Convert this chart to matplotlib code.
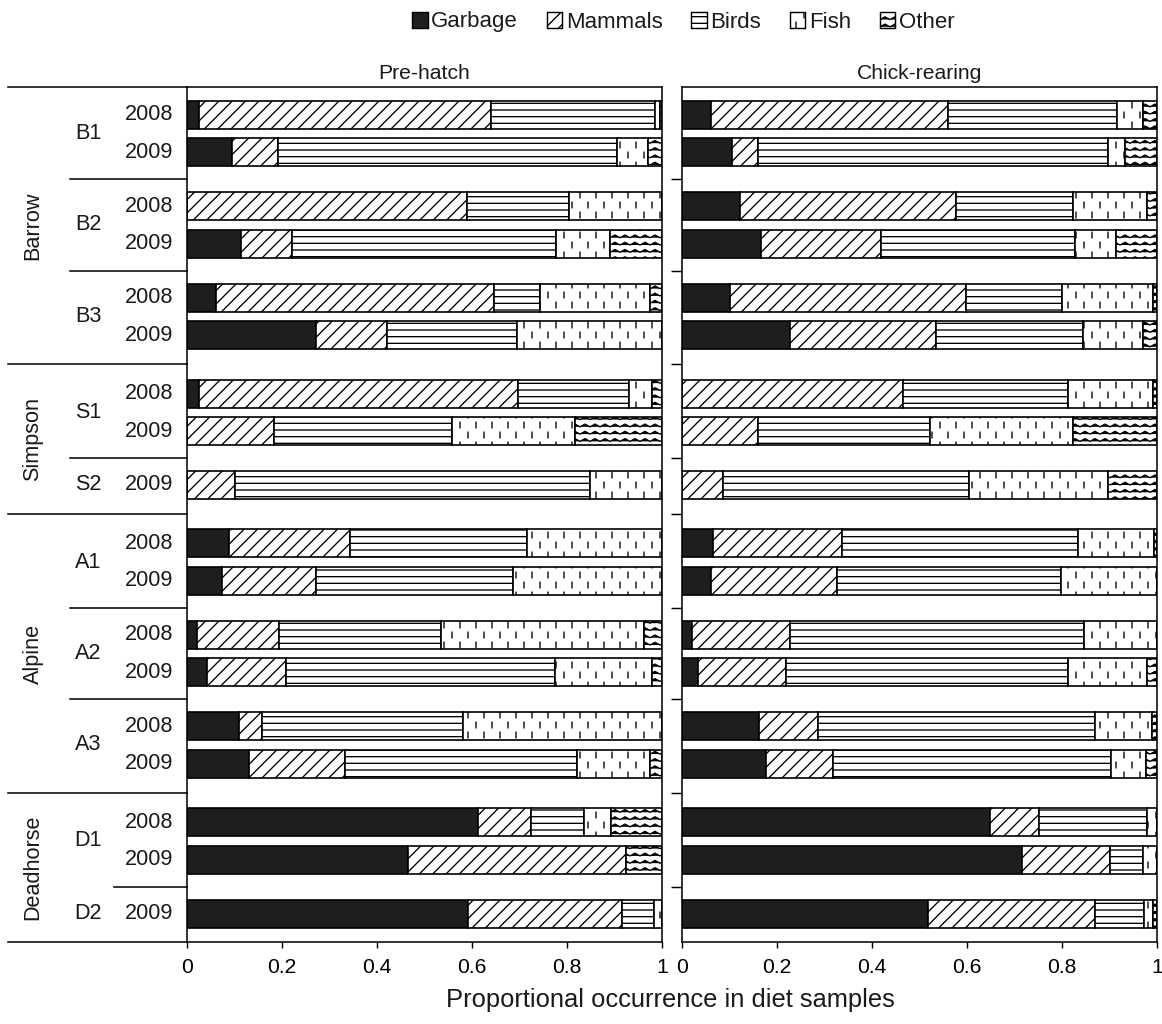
#! /usr/bin/env python3

import warnings
import matplotlib
matplotlib.use("Agg")
import matplotlib.pyplot as plt
import matplotlib.hatch as mhatch
from matplotlib.path import Path
from matplotlib.patches import Patch
from matplotlib.transforms import blended_transform_factory

# custom hatch codes (':' and '~') trigger a deprecation note, silence it
warnings.filterwarnings("ignore", category=matplotlib.MatplotlibDeprecationWarning)

# ---- data ----
regions = ["Barrow", "Barrow", "Barrow", "Simpson", "Simpson",
           "Alpine", "Alpine", "Alpine", "Deadhorse", "Deadhorse"]
sites = ["B1", "B2", "B3", "S1", "S2", "A1", "A2", "A3", "D1", "D2"]
site_years = [["2008", "2009"], ["2008", "2009"], ["2008", "2009"],
              ["2008", "2009"], ["2009"],
              ["2008", "2009"], ["2008", "2009"], ["2008", "2009"],
              ["2008", "2009"], ["2009"]]

categories = ["Garbage", "Mammals", "Birds", "Fish", "Other"]

# rows: B1-08 B1-09 B2-08 B2-09 B3-08 B3-09 S1-08 S1-09 S2-09
#       A1-08 A1-09 A2-08 A2-09 A3-08 A3-09 D1-08 D1-09 D2-09
pre_garbage = [0.026, 0.096, 0.000, 0.114, 0.061, 0.271, 0.025, 0.000, 0.000,
               0.088, 0.074, 0.021, 0.042, 0.110, 0.131, 0.612, 0.465, 0.591]
pre_mammals = [0.615, 0.095, 0.590, 0.107, 0.586, 0.150, 0.672, 0.184, 0.102,
               0.255, 0.199, 0.174, 0.166, 0.049, 0.203, 0.112, 0.460, 0.325]
pre_birds = [0.344, 0.714, 0.215, 0.557, 0.097, 0.274, 0.233, 0.375, 0.746,
             0.374, 0.414, 0.339, 0.566, 0.423, 0.488, 0.112, 0.000, 0.067]
pre_fish = [0.010, 0.066, 0.195, 0.112, 0.230, 0.305, 0.048, 0.257, 0.152,
            0.283, 0.313, 0.428, 0.206, 0.418, 0.152, 0.056, 0.000, 0.017]
pre_other = [0.005, 0.029, 0.000, 0.110, 0.026, 0.000, 0.022, 0.184, 0.000,
             0.000, 0.000, 0.038, 0.020, 0.000, 0.026, 0.108, 0.075, 0.000]

chick_garbage = [0.061, 0.105, 0.122, 0.166, 0.100, 0.227, 0.000, 0.000, 0.000,
                 0.064, 0.061, 0.021, 0.034, 0.162, 0.176, 0.649, 0.715, 0.517]
chick_mammals = [0.498, 0.055, 0.455, 0.253, 0.498, 0.307, 0.466, 0.160, 0.085,
                 0.272, 0.266, 0.206, 0.184, 0.125, 0.142, 0.103, 0.186, 0.353]
chick_birds = [0.357, 0.738, 0.247, 0.409, 0.203, 0.311, 0.346, 0.361, 0.519,
               0.497, 0.471, 0.620, 0.594, 0.582, 0.586, 0.228, 0.069, 0.104]
chick_fish = [0.056, 0.035, 0.156, 0.086, 0.192, 0.127, 0.179, 0.303, 0.293,
              0.162, 0.202, 0.153, 0.167, 0.120, 0.073, 0.020, 0.030, 0.019]
chick_other = [0.028, 0.067, 0.020, 0.086, 0.007, 0.028, 0.009, 0.176, 0.103,
               0.005, 0.000, 0.000, 0.021, 0.011, 0.023, 0.000, 0.000, 0.007]

panels = [("Pre-hatch", [pre_garbage, pre_mammals, pre_birds, pre_fish, pre_other]),
          ("Chick-rearing", [chick_garbage, chick_mammals, chick_birds, chick_fish, chick_other])]

xticks = [0, 0.2, 0.4, 0.6, 0.8, 1]
xtick_labels = ["0", "0.2", "0.4", "0.6", "0.8", "1"]


# ---- extra hatch patterns: staggered dashes (fish) and zigzag (other) ----
class DashHatch(mhatch.HatchPatternBase):
    def __init__(self, hatch, density):
        self.cols = 5 if ":" in hatch else 0
        self.rows = 8
        self.num_vertices = self.cols * self.rows * 2

    def set_vertices_and_codes(self, vertices, codes):
        k = 0
        for j in range(self.rows):
            yc = (j + 0.5) / self.rows
            shift = 0.5 if j % 2 else 0.0
            for i in range(self.cols):
                xc = (i + 0.25 + shift) / self.cols
                vertices[k] = (xc, yc - 0.035)
                vertices[k + 1] = (xc, yc + 0.035)
                codes[k] = Path.MOVETO
                codes[k + 1] = Path.LINETO
                k += 2


class ZigzagHatch(mhatch.HatchPatternBase):
    def __init__(self, hatch, density):
        self.rows = 11 if "~" in hatch else 0
        self.steps = 16
        self.num_vertices = self.rows * (self.steps + 1)

    def set_vertices_and_codes(self, vertices, codes):
        amp = 0.017
        k = 0
        for j in range(self.rows):
            yc = (j + 0.5) / self.rows
            for i in range(self.steps + 1):
                vertices[k] = (i / self.steps, yc + (amp if i % 2 else -amp))
                codes[k] = Path.MOVETO if i == 0 else Path.LINETO
                k += 1


mhatch._hatch_types.append(DashHatch)
mhatch._hatch_types.append(ZigzagHatch)

plt.rcParams["font.family"] = ["Liberation Sans", "DejaVu Sans"]
plt.rcParams["hatch.linewidth"] = 1.2
plt.rcParams["text.color"] = "#1a1a1a"

styles = [dict(facecolor="#1e1e1e", hatch=None),
          dict(facecolor="white", hatch="//"),
          dict(facecolor="white", hatch="--"),
          dict(facecolor="white", hatch=":"),
          dict(facecolor="white", hatch="~")]

# ---- row layout ----
within_step, site_step, region_step, pad = 1.0, 1.44, 1.56, 0.75
row_y, row_year, site_center, separators = [], [], [], []
cursor = None
for k, site in enumerate(sites):
    if cursor is None:
        cursor = pad
    else:
        new_region = regions[k] != regions[k - 1]
        step = region_step if new_region else site_step
        separators.append((cursor + step / 2, new_region))
        cursor += step
    ys = []
    for j, yr in enumerate(site_years[k]):
        if j > 0:
            cursor += within_step
        ys.append(cursor)
        row_y.append(cursor)
        row_year.append(yr)
    site_center.append(sum(ys) / len(ys))
total = cursor + pad

region_bounds = [0] + [s for s, r in separators if r] + [total]
region_names = []
for r in regions:
    if r not in region_names:
        region_names.append(r)

# ---- figure ----
fig = plt.figure(figsize=(14.525, 12.8), dpi=80)
ax1 = fig.add_axes([0.1607, 0.0804, 0.409, 0.8349])
ax2 = fig.add_axes([0.5872, 0.0804, 0.4083, 0.8349])

for ax, (title, series) in zip([ax1, ax2], panels):
    left = [0.0] * len(row_y)
    for values, st in zip(series, styles):
        ax.barh(row_y, values, left=left, height=0.745, edgecolor="black",
                linewidth=1.5, **st)
        left = [a + b for a, b in zip(left, values)]
    ax.set_xlim(0, 1)
    ax.set_ylim(total, 0)
    ax.set_xticks(xticks)
    ax.set_xticklabels(xtick_labels, fontsize=19)
    ax.set_yticks([s for s, r in separators])
    ax.set_yticklabels([])
    ax.tick_params(axis="x", direction="out", length=5, width=1.3, pad=10)
    ax.tick_params(axis="y", direction="out", length=10, width=1.3)
    ax.set_title(title, fontsize=19, pad=7)
    for sp in ax.spines.values():
        sp.set_linewidth(1.4)

ax1.tick_params(axis="y", length=0)

# labels and separator lines on the left
tr = blended_transform_factory(ax1.transAxes, ax1.transData)
for y, yr in zip(row_y, row_year):
    ax1.text(-0.0288, y, yr, transform=tr, ha="right", va="center", fontsize=19.5)
for y, site in zip(site_center, sites):
    ax1.text(-0.2077, y, site, transform=tr, ha="center", va="center", fontsize=19.5)
for name, lo, hi in zip(region_names, region_bounds[:-1], region_bounds[1:]):
    ax1.text(-0.3234, (lo + hi) / 2, name, transform=tr, ha="center", va="center",
             rotation=90, fontsize=19.5)

for k, (y, is_region) in enumerate(separators):
    x0 = -0.376 if is_region else -0.2455
    if k == len(separators) - 1 and not is_region:
        x0 = -0.153   # the last site rule is shorter in the original
    ax1.plot([x0, 0], [y, y], transform=tr, color="black", lw=1.4, clip_on=False)
for y in [0, total]:
    ax1.plot([-0.376, 0], [y, y], transform=tr, color="black", lw=1.4, clip_on=False)

# legend
handles = [Patch(edgecolor="black", linewidth=1.3, **st) for st in styles]
fig.legend(handles, categories, loc="center", bbox_to_anchor=(0.588, 1 - 22 / 1024),
           ncol=5, frameon=False, fontsize=20, handlelength=0.7, handleheight=0.7,
           handletextpad=0.15, columnspacing=1.3, borderpad=0)

fig.text(670 / 1162, 1 - 1000 / 1024, "Proportional occurrence in diet samples",
         ha="center", va="center", fontsize=23)

fig.savefig("out.png", dpi=80)
